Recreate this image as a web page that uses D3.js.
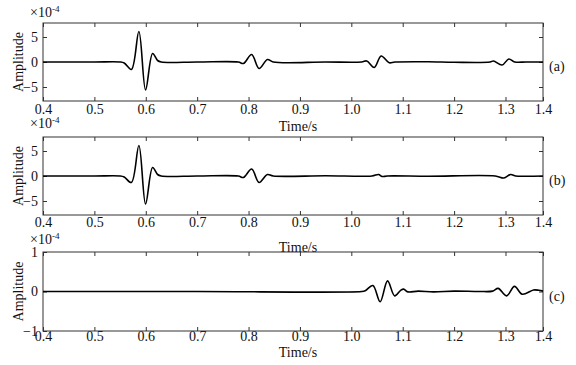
<!DOCTYPE html>
<html><head><meta charset="utf-8">
<script src="https://cdn.jsdelivr.net/npm/d3@7"></script>
<style>
html,body{margin:0;padding:0;background:#fff;}
svg{display:block;}
text{font-family:"Liberation Serif","Times New Roman",serif;fill:#111;}
</style></head>
<body>
<script>
// ---- data ----
const timeA = [0.40,0.50,0.55,0.558,0.572,0.5866,0.5996,0.6133,0.623,0.63,0.70,0.78,0.79,0.806,0.8205,0.8367,0.848,0.95,1.02,1.030,1.0446,1.058,1.0737,1.085,1.15,1.20,1.27,1.2766,1.2935,1.3064,1.318,1.34,1.373];
const ampA  = [0,0,0,-0.2,-1.5,6.1,-5.6,1.7,0.3,0,0,0,-0.3,1.5,-1.3,0.5,0,0,0,0.2,-1.1,1.2,-0.15,0,0.05,-0.05,0,0.2,-0.6,0.6,0,0,0];
const timeB = [0.40,0.50,0.55,0.558,0.572,0.5866,0.5996,0.6133,0.623,0.63,0.70,0.78,0.79,0.806,0.8205,0.8367,0.848,0.95,1.04,1.053,1.06,1.07,1.15,1.28,1.2967,1.31,1.32,1.34,1.373];
const ampB  = [0,0,0,-0.2,-1.3,6.1,-5.6,1.7,0.3,0,0,0,-0.3,1.4,-1.3,0.3,0,0.05,0,0.3,-0.1,0,-0.05,0,-0.4,0.3,0,-0.05,0];
const timeC = [0.40,0.70,1.02,1.027,1.042,1.056,1.0705,1.0843,1.096,1.1018,1.11,1.13,1.16,1.20,1.25,1.275,1.2857,1.302,1.3175,1.3325,1.3546,1.365,1.373];
const ampC  = [0,0,0,0.02,0.15,-0.26,0.27,-0.11,0.03,0.06,-0.01,0.01,-0.01,0.01,0,0.01,0.08,-0.11,0.13,-0.07,0.04,0.03,0.01];
const xTickValues = [0.4,0.5,0.6,0.7,0.8,0.9,1.0,1.1,1.2,1.3,1.373];
const xTickLabels = ["0.4","0.5","0.6","0.7","0.8","0.9","1.0","1.1","1.2","1.3","1.4"];
const yTicksAB = [-5,0,5];
const yTicksC = [-1,0,1];
const panelLabels = ["(a)","(b)","(c)"];
const xLabel = "Time/s";
const yLabel = "Amplitude";

// ---- layout ----
const W = 576, H = 365;
const left = 43, right = 543;
const panels = [
  {t:timeA, a:ampA, top:23,  bottom:101, dom:[-7.8,7.8], ticks:yTicksAB, xlab:114, tlab:131, exp:17},
  {t:timeB, a:ampB, top:137, bottom:215, dom:[-7.8,7.8], ticks:yTicksAB, xlab:227, tlab:252, exp:128},
  {t:timeC, a:ampC, top:252, bottom:331, dom:[-1,1],     ticks:yTicksC,  xlab:341, tlab:357, exp:244}
];

const svg = d3.select("body").append("svg").attr("width",W).attr("height",H);
svg.append("rect").attr("width",W).attr("height",H).attr("fill","#fff");

const x = d3.scaleLinear().domain([0.4,1.373]).range([left,right]);

panels.forEach((p,i)=>{
  const y = d3.scaleLinear().domain(p.dom).range([p.bottom,p.top]);
  const g = svg.append("g");
  // bottom axis
  const xb = g.append("g").attr("transform",`translate(0,${p.bottom})`)
    .call(d3.axisBottom(x).tickValues(xTickValues).tickSize(-4).tickPadding(0)
      .tickFormat((d,k)=>xTickLabels[k]));
  xb.select(".domain").remove();
  xb.selectAll("text").attr("y",null).attr("dy",null)
    .attr("transform",`translate(0,${p.xlab-p.bottom})`).style("font-size","14px");
  xb.selectAll("line").attr("stroke","#333");
  // top axis ticks
  const xt = g.append("g").attr("transform",`translate(0,${p.top})`)
    .call(d3.axisTop(x).tickValues(xTickValues).tickSize(-4).tickFormat(""));
  xt.select(".domain").remove();
  xt.selectAll("line").attr("stroke","#333");
  // left axis
  const yl = g.append("g").attr("transform",`translate(${left},0)`)
    .call(d3.axisLeft(y).tickValues(p.ticks).tickSize(-4).tickPadding(6).tickFormat(d3.format("d")));
  yl.select(".domain").remove();
  yl.selectAll("text").style("font-size","14px").attr("x",-5);
  yl.selectAll("line").attr("stroke","#333");
  // right axis
  const yr = g.append("g").attr("transform",`translate(${right},0)`)
    .call(d3.axisRight(y).tickValues(p.ticks).tickSize(-4).tickFormat(""));
  yr.select(".domain").remove();
  yr.selectAll("line").attr("stroke","#333");
  // box
  g.append("rect").attr("x",left).attr("y",p.top).attr("width",right-left).attr("height",p.bottom-p.top)
    .attr("fill","none").attr("stroke","#333").attr("stroke-width",1);
  // line
  const data = p.t.map((t,k)=>[t,p.a[k]]);
  const line = d3.line().x(d=>x(d[0])).y(d=>y(d[1])).curve(d3.curveCatmullRom.alpha(0.5));
  g.append("path").datum(data).attr("d",line).attr("fill","none").attr("stroke","#000")
    .attr("stroke-width",1.6).attr("stroke-linejoin","round");
  // y label
  const cy = (p.top+p.bottom)/2;
  g.append("text").attr("transform",`translate(23,${cy}) rotate(-90)`).attr("text-anchor","middle")
    .style("font-size","14px").text(yLabel);
  // x label
  g.append("text").attr("x",298).attr("y",p.tlab).attr("text-anchor","middle")
    .style("font-size","14px").text(xLabel);
  // exponent
  const ex = g.append("text").attr("x",30).attr("y",p.exp).style("font-size","14px");
  ex.append("tspan").text("\u00d710");
  ex.append("tspan").attr("dy",-5).style("font-size","9px").text("-4");
  // panel label
  g.append("text").attr("x",549).attr("y",y(0)+9).style("font-size","14px").text(panelLabels[i]);
});
</script>
</body></html>
